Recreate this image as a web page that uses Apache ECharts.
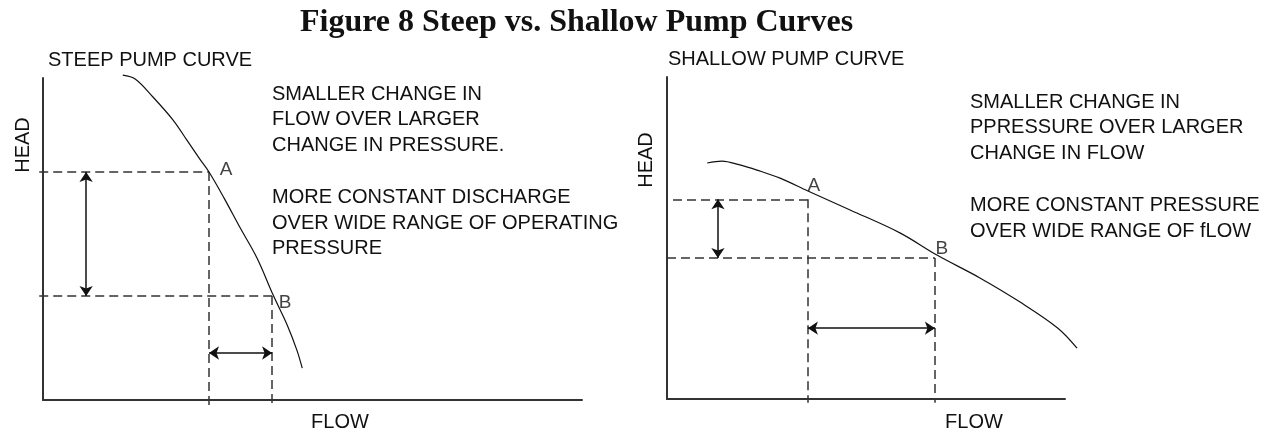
<!DOCTYPE html>
<html>
<head>
<meta charset="utf-8">
<script src="https://cdn.jsdelivr.net/npm/echarts@6.0.0/dist/echarts.min.js"></script>
<style>
  html, body { margin: 0; padding: 0; background: #fff; }
  #chart { width: 1279px; height: 433px; }
</style>
</head>
<body>
<div id="chart"></div>
<script>
// curve samples (flow 0-100, head 0-100)
const steepFlow = [14.8, 17.1, 20.4, 24.1, 26.7, 29.1, 30.8, 33.6, 36.5, 39.7, 42.7, 45.3, 47.1, 48.1];
const steepHead = [100.9, 99.7, 94.1, 87.0, 80.7, 74.8, 70.8, 62.7, 53.7, 44.1, 32.6, 23.3, 15.5, 9.9];
const shallowFlow = [10.1, 13.8, 18.3, 22.6, 28.4, 35.4, 46.0, 58.5, 67.8, 78.6, 88.7, 98.2, 103.0];
const shallowHead = [73.3, 73.9, 72.7, 71.1, 68.6, 64.6, 58.7, 51.6, 44.7, 37.6, 30.1, 22.0, 15.8];

// operating points A and B
const pointNames = ['A', 'B'];
const steepPointFlow = [30.8, 42.5];
const steepPointHead = [70.8, 32.3];
const shallowPointFlow = [35.4, 67.3];
const shallowPointHead = [62.0, 43.8];

// texts
const mainTitle = 'Figure 8 Steep vs. Shallow Pump Curves';
const panelTitles = ['STEEP PUMP CURVE', 'SHALLOW PUMP CURVE'];
const steepNotes = ['SMALLER CHANGE IN', 'FLOW OVER LARGER', 'CHANGE IN PRESSURE.', '',
  'MORE CONSTANT DISCHARGE', 'OVER WIDE RANGE OF OPERATING', 'PRESSURE'];
const shallowNotes = ['SMALLER CHANGE IN', 'PPRESSURE OVER LARGER', 'CHANGE IN FLOW', '',
  'MORE CONSTANT PRESSURE', 'OVER WIDE RANGE OF fLOW'];
const axisNames = ['HEAD', 'FLOW'];

const FONT = '"Liberation Sans", Arial, sans-serif';
const INK = '#111';

const chart = echarts.init(document.getElementById('chart'));

// plain axis: only the line is drawn
const plainAxis = (gridIndex, max, showLine) => ({
  type: 'value',
  gridIndex: gridIndex,
  min: 0,
  max: max,
  axisLine: { show: showLine, onZero: false, lineStyle: { color: '#333', width: 2 } },
  axisTick: { show: false },
  axisLabel: { show: false },
  splitLine: { show: false },
});

const curve = (flow, head, idx) => ({
  type: 'line',
  xAxisIndex: idx,
  yAxisIndex: idx,
  data: flow.map((x, i) => [x, head[i]]),
  smooth: 0.35,
  symbol: 'none',
  clip: false,
  silent: true,
  lineStyle: { color: INK, width: 1.2 },
});

// dashed guides from the points back to the axes
const guides = (flow, head, idx, xStart, yEnd) => ({
  type: 'lines',
  coordinateSystem: 'cartesian2d',
  xAxisIndex: idx,
  yAxisIndex: idx,
  clip: false,
  silent: true,
  symbol: 'none',
  lineStyle: { color: '#333', width: 1.5, type: [9, 5], opacity: 1 },
  data: [
    { coords: [[xStart[0], head[0]], [flow[0], head[0]]] },
    { coords: [[xStart[1], head[1]], [flow[1], head[1]]] },
    { coords: [[flow[0], head[0]], [flow[0], yEnd]] },
    { coords: [[flow[1], head[1]], [flow[1], yEnd]] },
  ],
});

// double headed arrows showing the change in head and flow
const arrows = (flow, head, idx, headX, flowY) => ({
  type: 'lines',
  coordinateSystem: 'cartesian2d',
  xAxisIndex: idx,
  yAxisIndex: idx,
  clip: false,
  silent: true,
  symbol: ['arrow', 'arrow'],
  symbolSize: 10,
  lineStyle: { color: INK, width: 1.5, opacity: 1 },
  data: [
    { coords: [[headX, head[0]], [headX, head[1]]] },
    { coords: [[flow[0], flowY], [flow[1], flowY]] },
  ],
});

const pointLabels = (flow, head, idx, offsets) => ({
  type: 'scatter',
  xAxisIndex: idx,
  yAxisIndex: idx,
  symbolSize: 1,
  clip: false,
  silent: true,
  itemStyle: { color: 'rgba(0,0,0,0)' },
  data: flow.map((x, i) => ({
    value: [x, head[i]],
    label: {
      show: true,
      position: 'inside',
      formatter: pointNames[i],
      offset: offsets[i],
      color: INK,
      fontFamily: FONT,
      fontSize: 19,
    },
  })),
});

const textLine = (text, x, y, opts) => ({
  type: 'text',
  x: x,
  y: y,
  silent: true,
  rotation: (opts && opts.rotation) || 0,
  style: {
    text: text,
    fill: INK,
    font: (opts && opts.font) || ('20px ' + FONT),
    textAlign: (opts && opts.align) || 'left',
    textVerticalAlign: (opts && opts.vAlign) || 'top',
  },
});

const graphics = [
  textLine(mainTitle, 300, 7, { font: 'bold 32px "Liberation Serif", "Times New Roman", serif' }),
  textLine(panelTitles[0], 48, 50),
  textLine(panelTitles[1], 668, 49),
  textLine(axisNames[0], 23, 145, { rotation: Math.PI / 2, align: 'center', vAlign: 'middle' }),
  textLine(axisNames[0], 646, 160, { rotation: Math.PI / 2, align: 'center', vAlign: 'middle' }),
  textLine(axisNames[1], 340, 412, { align: 'center' }),
  textLine(axisNames[1], 974, 412, { align: 'center' }),
];
steepNotes.forEach((t, i) => { if (t) graphics.push(textLine(t, 272, 84 + i * 25.8)); });
shallowNotes.forEach((t, i) => { if (t) graphics.push(textLine(t, 970, 92 + i * 25.8)); });

// the shallow curve runs a little past the end of its flow axis, so its marks
// sit in a wider grid (same scale) and the flow axis line comes from grid 2
const option = {
  animation: false,
  backgroundColor: '#fff',
  grid: [
    { left: 43, top: 78, width: 539, height: 322 },
    { left: 667, top: 77, width: 414, height: 322 },
    { left: 667, top: 77, width: 398, height: 322 },
  ],
  xAxis: [plainAxis(0, 100, true), plainAxis(1, 104, false), plainAxis(2, 100, true)],
  yAxis: [plainAxis(0, 100, true), plainAxis(1, 100, true), plainAxis(2, 100, false)],
  series: [
    curve(steepFlow, steepHead, 0),
    guides(steepPointFlow, steepPointHead, 0, [-0.7, -0.7], -2.5),
    arrows(steepPointFlow, steepPointHead, 0, 8.0, 14.6),
    pointLabels(steepPointFlow, steepPointHead, 0, [[17, -2], [13, 7]]),
    curve(shallowFlow, shallowHead, 1),
    guides(shallowPointFlow, shallowPointHead, 1, [1.5, 0], -1.2),
    arrows(shallowPointFlow, shallowPointHead, 1, 12.8, 22.0),
    pointLabels(shallowPointFlow, shallowPointHead, 1, [[6, -14], [7, -9]]),
  ],
  graphic: graphics,
};
chart.setOption(option);
</script>
</body>
</html>
